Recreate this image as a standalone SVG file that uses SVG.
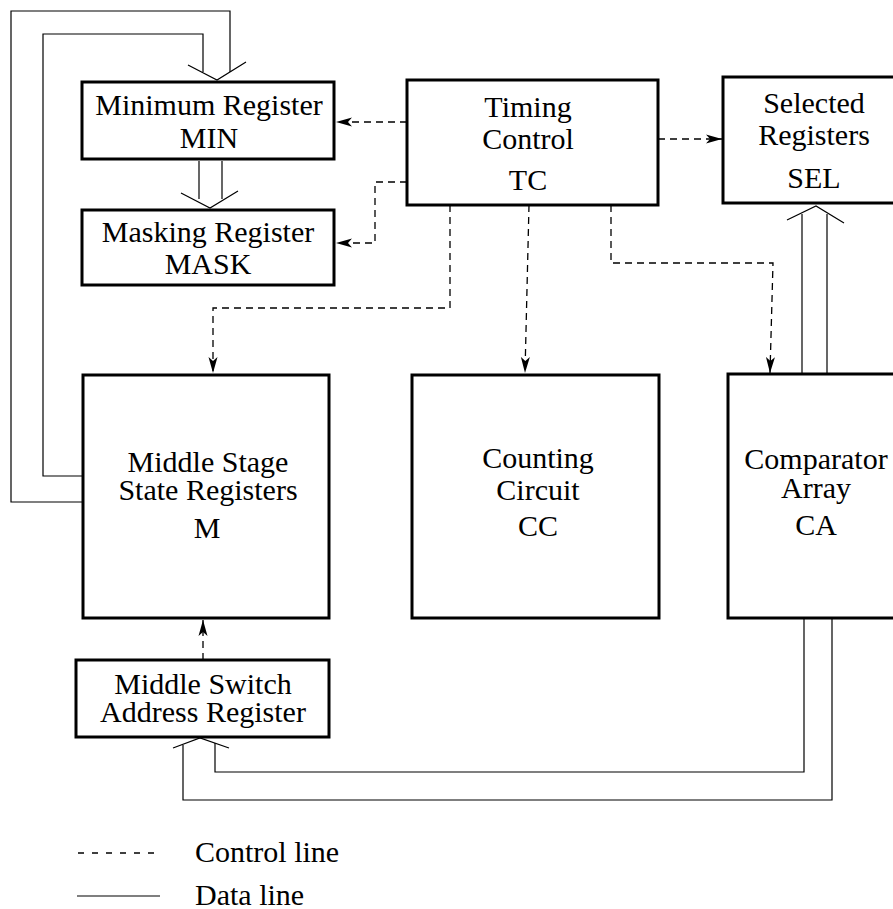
<svg xmlns="http://www.w3.org/2000/svg" width="893" height="909" viewBox="0 0 893 909">
<style>
.box{fill:#fff;stroke:#000;stroke-width:3}
.t{font-family:"Liberation Serif","Times New Roman",serif;font-size:30px;fill:#000;text-anchor:middle}
.tl{font-family:"Liberation Serif","Times New Roman",serif;font-size:30px;fill:#000}
.ctl{fill:none;stroke:#000;stroke-width:1.3;stroke-dasharray:7,5}
.data{fill:none;stroke:#000;stroke-width:1.2}
</style>
<defs>
<marker id="ah" markerUnits="userSpaceOnUse" markerWidth="18" markerHeight="12" refX="16" refY="6" orient="auto" viewBox="0 0 18 12">
<path d="M0,1.5 L16,6 L0,10.5 L4,6 Z" fill="#000" stroke="none"/>
</marker>
</defs>
<rect x="0" y="0" width="893" height="909" fill="#fff"/>
<g id="connectors">
<polyline class="data" points="83,502 11,502 11,11 230,11 230,72"/>
<polyline class="data" points="83,476 43,476 43,34 203,34 203,72"/>
<polyline class="data" points="188,65 217,80 246,62"/>
<line class="data" x1="199" y1="161" x2="199" y2="199"/>
<line class="data" x1="222" y1="161" x2="222" y2="199"/>
<polyline class="data" points="181,193 210,208 238,191"/>
<line class="data" x1="802" y1="374" x2="802" y2="214"/>
<line class="data" x1="827" y1="374" x2="827" y2="214"/>
<polyline class="data" points="787,220 816,206 844,223"/>
<polyline class="data" points="804,618 804,772 215,772 215,743"/>
<polyline class="data" points="832,618 832,800 183,800 183,745"/>
<polyline class="data" points="173,748 200,738 229,748"/>
<polyline class="ctl" points="407,122 336,122" marker-end="url(#ah)"/>
<polyline class="ctl" points="407,182 375,182 375,243 336,243" marker-end="url(#ah)"/>
<polyline class="ctl" points="658,139 722,139" marker-end="url(#ah)"/>
<polyline class="ctl" points="450,205 450,308 213,308 213,373" marker-end="url(#ah)"/>
<polyline class="ctl" points="529,205 525,373" marker-end="url(#ah)"/>
<polyline class="ctl" points="611,205 611,263 773,263 770,373" marker-end="url(#ah)"/>
<polyline class="ctl" points="203,660 203,620" marker-end="url(#ah)"/>
</g>
<g id="min">
<rect class="box" x="82" y="82" width="252" height="77"/>
<text class="t" x="209" y="115">Minimum Register</text>
<text class="t" x="209" y="148">MIN</text>
</g>
<g id="mask">
<rect class="box" x="82" y="210" width="252" height="75"/>
<text class="t" x="208" y="242">Masking Register</text>
<text class="t" x="208" y="274">MASK</text>
</g>
<g id="tc">
<rect class="box" x="407" y="80" width="251" height="125"/>
<text class="t" x="528" y="117">Timing</text>
<text class="t" x="528" y="149">Control</text>
<text class="t" x="528" y="190">TC</text>
</g>
<g id="sel">
<rect class="box" x="723" y="77" width="182" height="126"/>
<text class="t" x="814" y="113">Selected</text>
<text class="t" x="814" y="145">Registers</text>
<text class="t" x="814" y="188">SEL</text>
</g>
<g id="m">
<rect class="box" x="83" y="375" width="246" height="243"/>
<text class="t" x="208" y="472">Middle Stage</text>
<text class="t" x="208" y="500">State Registers</text>
<text class="t" x="207" y="538">M</text>
</g>
<g id="cc">
<rect class="box" x="412" y="375" width="247" height="243"/>
<text class="t" x="538" y="468">Counting</text>
<text class="t" x="538" y="500">Circuit</text>
<text class="t" x="538" y="536">CC</text>
</g>
<g id="ca">
<rect class="box" x="728" y="374" width="177" height="244"/>
<text class="t" x="816" y="469">Comparator</text>
<text class="t" x="816" y="498">Array</text>
<text class="t" x="816" y="535">CA</text>
</g>
<g id="msar">
<rect class="box" x="76" y="660" width="253" height="77"/>
<text class="t" x="203" y="694">Middle Switch</text>
<text class="t" x="203" y="722">Address Register</text>
</g>
<g id="legend">
<line class="ctl" x1="78" y1="853" x2="160" y2="853" style="stroke-dasharray:6,8"/>
<text class="tl" x="195" y="862">Control line</text>
<line class="data" x1="77" y1="896" x2="160" y2="896"/>
<text class="tl" x="195" y="905">Data line</text>
</g>
</svg>
